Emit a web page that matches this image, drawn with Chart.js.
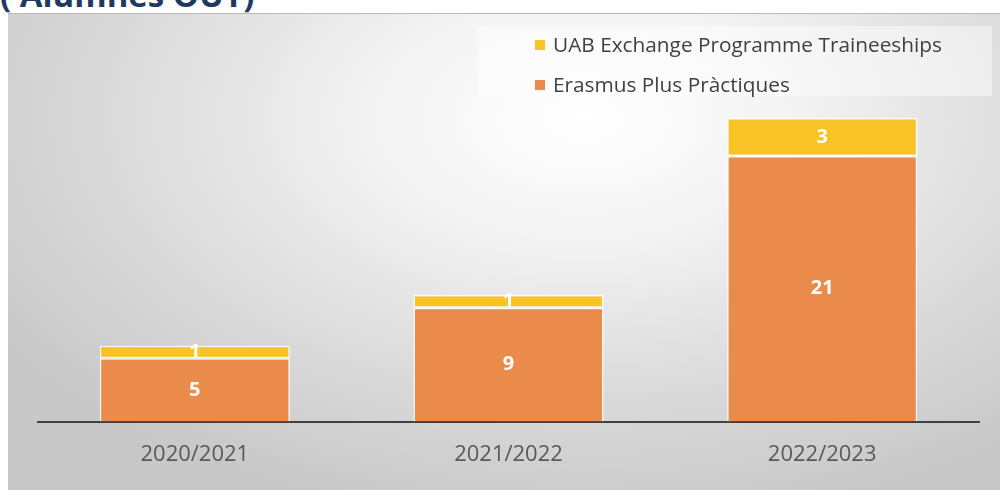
<!DOCTYPE html>
<html>
<head>
    <title>Alumnes OUT</title>
    <script src="https://cdn.jsdelivr.net/npm/chart.js"></script>
    <style>
        body {
            margin: 0;
            padding: 0;
            width: 1000px;
            height: 490px;
            overflow: hidden;
            background-color: #ffffff;
            font-family: 'Open Sans', sans-serif;
        }

        #title {
            position: absolute;
            left: 0;
            top: -28px;
            font-size: 33px;
            font-weight: bold;
            color: #1f3a60;
            white-space: nowrap;
        }

        #panel {
            position: absolute;
            left: 8px;
            top: 13px;
            width: 992px;
            height: 477px;
            border-top: 1px solid #b8b8b8;
            box-sizing: border-box;
            background: radial-gradient(ellipse 70% 85% at 58% 22%, #ffffff 0%, #f3f3f3 30%, #dcdcdc 65%, #c8c8c8 100%);
        }
    </style>
</head>
<body>

    <div id="title">( Alumnes OUT)</div>
    <div id="panel">
        <canvas id="chart" width="992" height="476"></canvas>
    </div>

    <script>
        const categories = ['2020/2021', '2021/2022', '2022/2023'];
        const erasmusValues = [5, 9, 21];
        const uabValues = [1, 1, 3];
        const seriesNames = ['Erasmus Plus Pràctiques', 'UAB Exchange Programme Traineeships'];

        const orange = '#ea8a4b';
        const yellow = '#f8c324';

        // value labels in the middle of each segment
        const barLabels = {
            id: 'barLabels',
            afterDatasetsDraw(chart) {
                const ctx = chart.ctx;
                ctx.save();
                ctx.fillStyle = '#ffffff';
                ctx.font = 'bold 20px "Open Sans"';
                ctx.textAlign = 'center';
                ctx.textBaseline = 'middle';
                chart.data.datasets.forEach((ds, i) => {
                    chart.getDatasetMeta(i).data.forEach((bar, j) => {
                        ctx.fillText(ds.data[j], bar.x, (bar.y + bar.base) / 2);
                    });
                });
                ctx.restore();
            }
        };

        // legend box, top right, last series first
        const boxLegend = {
            id: 'boxLegend',
            afterDraw(chart) {
                const ctx = chart.ctx;
                ctx.save();
                ctx.fillStyle = 'rgba(255,255,255,0.45)';
                ctx.fillRect(470, 12, 514, 70);
                ctx.font = '20.8px "Open Sans"';
                ctx.textBaseline = 'middle';
                const items = chart.data.datasets.slice().reverse();
                items.forEach((ds, k) => {
                    const y = 31 + k * 40;
                    ctx.fillStyle = ds.backgroundColor;
                    ctx.fillRect(527, y - 5, 10, 10);
                    ctx.fillStyle = '#404040';
                    ctx.fillText(ds.label, 545, y + 1);
                });
                ctx.restore();
            }
        };

        new Chart(document.getElementById('chart'), {
            type: 'bar',
            data: {
                labels: categories,
                datasets: [{
                    label: seriesNames[0],
                    data: erasmusValues,
                    backgroundColor: orange,
                    borderColor: 'rgba(255,255,255,0.85)',
                    borderWidth: 1.5,
                    borderSkipped: 'bottom'
                }, {
                    label: seriesNames[1],
                    data: uabValues,
                    backgroundColor: yellow,
                    borderColor: 'rgba(255,255,255,0.85)',
                    borderWidth: 1.5,
                    borderSkipped: false
                }]
            },
            options: {
                responsive: false,
                animation: false,
                barPercentage: 0.606,
                categoryPercentage: 1,
                layout: {
                    padding: { left: 30, right: 21, top: 28, bottom: 2 }
                },
                plugins: {
                    legend: { display: false },
                    tooltip: { enabled: false }
                },
                scales: {
                    x: {
                        stacked: true,
                        grid: { display: false, drawTicks: false },
                        border: { display: true, color: '#404040', width: 2 },
                        ticks: {
                            color: '#595959',
                            padding: 20,
                            font: { family: 'Open Sans', size: 22 }
                        }
                    },
                    y: {
                        stacked: true,
                        display: false,
                        min: 0,
                        max: 30
                    }
                }
            },
            plugins: [barLabels, boxLegend]
        });
    </script>

</body>
</html>
